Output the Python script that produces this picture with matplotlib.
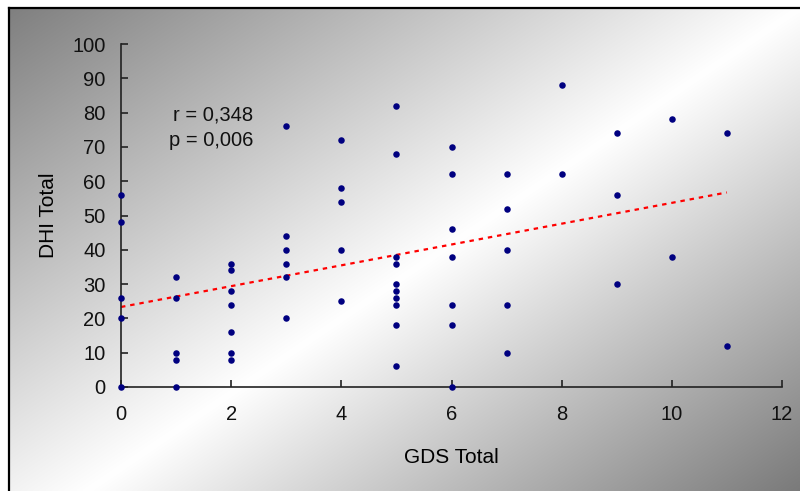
import numpy as np
import matplotlib
matplotlib.use("Agg")
from matplotlib import pyplot as plt
from matplotlib.lines import Line2D

plt.rcParams['font.family'] = ['Liberation Sans', 'DejaVu Sans']

# GDS Total (x) and DHI Total (y)
gds = [0, 0, 0, 0, 0,
       1, 1, 1, 1, 1,
       2, 2, 2, 2, 2, 2, 2,
       3, 3, 3, 3, 3, 3,
       4, 4, 4, 4, 4,
       5, 5, 5, 5, 5, 5, 5, 5, 5, 5,
       6, 6, 6, 6, 6, 6, 6,
       7, 7, 7, 7, 7,
       8, 8,
       9, 9, 9,
       10, 10,
       11, 11]
dhi = [56, 48, 26, 20, 0,
       32, 26, 10, 8, 0,
       36, 34, 28, 24, 16, 10, 8,
       76, 44, 40, 36, 32, 20,
       72, 58, 54, 40, 25,
       82, 68, 38, 36, 30, 28, 26, 24, 18, 6,
       70, 62, 46, 38, 24, 18, 0,
       62, 52, 40, 24, 10,
       88, 62,
       74, 56, 30,
       78, 38,
       74, 12]
stats_text = "r = 0,348\np = 0,006"
x_ticks = [0, 2, 4, 6, 8, 10, 12]
y_ticks = list(range(0, 101, 10))

W, H = 800, 491
fig = plt.figure(figsize=(W / 100, H / 100), dpi=100)
fig.patch.set_facecolor('white')

# gradient chart area (grey top-left -> white -> grey bottom-right)
x0, y0 = 9, 8
bg = fig.add_axes([x0 / W, 0, 1 - x0 / W, 1 - y0 / H], zorder=-10)
u = np.linspace(0, 1, 400)[None, :]
v = np.linspace(0, 1, 250)[:, None]
s = u + 0.9 * v
g = np.where(s < 1, 1 - 0.5 * (1 - s), 1 - 0.52 * (s - 1) / 0.9)
g = np.clip(g, 0, 1)
bg.imshow(np.dstack([g, g, g]), aspect='auto', extent=[0, 1, 1, 0],
          interpolation='bilinear')
bg.axis('off')

# frame lines (top and left visible)
fig.add_artist(Line2D([x0 / W, 1], [1 - y0 / H, 1 - y0 / H], color='black', lw=1.6))
fig.add_artist(Line2D([x0 / W, x0 / W], [0, 1 - y0 / H], color='black', lw=1.6))

ax = fig.add_axes([121 / W, 1 - 387 / H, (782 - 121) / W, (387 - 44) / H])
ax.patch.set_alpha(0)
ax.scatter(gds, dhi, s=22, color='#000080', zorder=3, clip_on=False,
           linewidths=0)

# linear trend line
k, b = np.polyfit(gds, dhi, 1)
xs = np.array([min(gds), max(gds)])
ax.plot(xs, k * xs + b, color='red', lw=1.6, linestyle=(0, (2, 2.2)), zorder=2)

ax.set_xlim(0, 12)
ax.set_ylim(0, 100)
ax.set_xticks(x_ticks)
ax.set_yticks(y_ticks)
for sp in ['top', 'right']:
    ax.spines[sp].set_visible(False)
for sp in ['left', 'bottom']:
    ax.spines[sp].set_color('#222222')
    ax.spines[sp].set_linewidth(1.2)
ax.tick_params(direction='in', length=5, width=1.2, labelsize=14.5,
               colors='#222222', labelcolor='#111111')
ax.tick_params(axis='x', pad=13)
ax.tick_params(axis='y', pad=11)
ax.set_xlabel('GDS Total', fontsize=15, labelpad=17)
ax.set_ylabel('DHI Total', fontsize=15, labelpad=10)

ax.text(2.4, 75.5, stats_text, ha='right', va='center', fontsize=14.5,
        linespacing=1.45, color='#111111')

fig.savefig('out.png', dpi=100)
